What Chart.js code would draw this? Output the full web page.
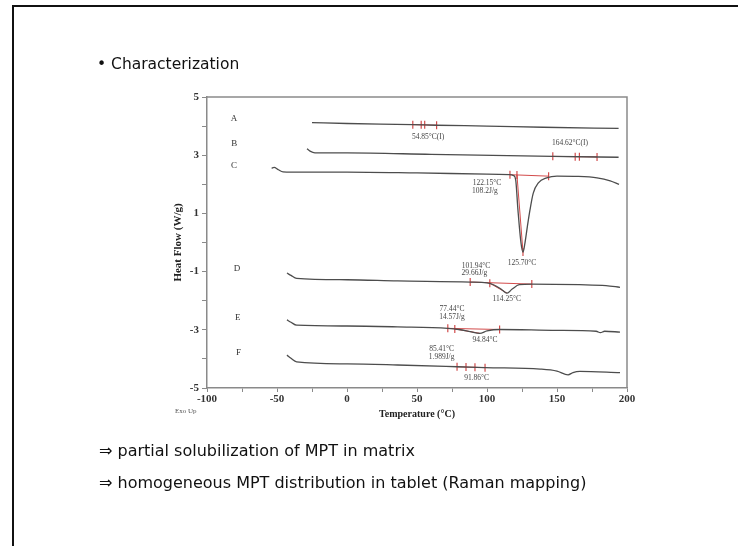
<!DOCTYPE html>
<html>
<head>
<meta charset="utf-8">
<script src="https://cdn.jsdelivr.net/npm/chart.js@4/dist/chart.umd.min.js"></script>
<style>
  html, body { margin: 0; padding: 0; background: #fff; }
  #slide { position: relative; width: 738px; height: 546px; overflow: hidden; }
  #dsc { position: absolute; left: 0; top: 0; }
  .edge-top { position: absolute; left: 12px; top: 5px; width: 740px; height: 2px; background: #111; }
  .edge-left { position: absolute; left: 12px; top: 5px; width: 2px; height: 560px; background: #111; }
  .txt { position: absolute; font-family: "DejaVu Sans", sans-serif; font-size: 15.5px; color: #111; white-space: nowrap; line-height: 18px; }
  .txt.arrow { font-size: 16px; }
  .exo { position: absolute; left: 175px; top: 407px; font-family: "Liberation Serif", serif; font-size: 7px; color: #555; }
</style>
</head>
<body>
<div id="slide">
  <canvas id="dsc" width="738" height="546"></canvas>
  <div class="edge-top"></div>
  <div class="edge-left"></div>
  <div class="txt" style="left:97px; top:55px;">• Characterization</div>
  <div class="txt arrow" style="left:99px; top:442px;">⇒ partial solubilization of MPT in matrix</div>
  <div class="txt arrow" style="left:99px; top:474px;">⇒ homogeneous MPT distribution in tablet (Raman mapping)</div>
  <div class="exo">Exo Up</div>
</div>
<script>
// DSC thermograms, temperature (°C) vs heat flow (W/g)
const tA = [-25, 0, 47, 64, 100, 140, 194];
const hA = [4.12, 4.09, 4.05, 4.03, 4.00, 3.96, 3.92];

const tB = [-28.6, -26.4, -22.9, 0, 60, 147, 194];
const hB = [3.22, 3.14, 3.08, 3.08, 3.03, 2.96, 2.93];

const tC = [-53.8, -52.1, -49, -45.7, -32, 0, 50, 100, 116, 119, 120.5, 122.1, 124.3, 125.7, 127.1, 128.8, 130.7, 133, 136.7, 142.6, 150, 165, 178.6, 188, 194.3];
const hC = [2.55, 2.58, 2.50, 2.43, 2.42, 2.42, 2.39, 2.35, 2.33, 2.30, 2.15, 1.12, -0.02, -0.33, -0.02, 0.54, 1.12, 1.69, 2.05, 2.22, 2.28, 2.27, 2.22, 2.12, 2.00];

const tD = [-42.9, -40, -36, 0, 36, 88, 100, 105, 110, 114.3, 118, 123, 132, 166, 185, 195];
const hD = [-1.05, -1.13, -1.23, -1.28, -1.32, -1.36, -1.39, -1.46, -1.60, -1.74, -1.60, -1.45, -1.43, -1.45, -1.48, -1.54];

const tE = [-42.9, -40, -36, 0, 36, 72, 80, 88, 94.8, 100, 109, 150, 178, 181, 184, 195];
const hE = [-2.66, -2.74, -2.84, -2.87, -2.90, -2.95, -2.99, -3.06, -3.12, -3.04, -2.99, -3.02, -3.05, -3.10, -3.05, -3.08];

const tF = [-42.9, -40, -36, 0, 36, 78.6, 98.6, 138, 150, 157.9, 161.4, 166.4, 195];
const hF = [-3.87, -3.98, -4.10, -4.17, -4.21, -4.27, -4.30, -4.35, -4.42, -4.55, -4.47, -4.43, -4.47];

// analysis marks (onset / limit ticks)
const markT = [47, 53, 55.5, 64, 147, 163, 166, 178.6, 116.4, 121.4, 144, 125.7, 88, 102, 132, 72, 77, 109, 78.6, 85, 91.4, 98.6];
const markH = [4.05, 4.05, 4.05, 4.03, 2.96, 2.95, 2.95, 2.94, 2.33, 2.32, 2.28, -0.33, -1.36, -1.40, -1.43, -2.95, -2.97, -2.99, -4.27, -4.28, -4.29, -4.30];

// red baselines / tangents: [t1, h1, t2, h2]
const baselines = [
  [47, 4.05, 64, 4.03],
  [147, 2.96, 178.6, 2.94],
  [116.4, 2.33, 144, 2.28],
  [121.4, 2.32, 125.7, -0.33],
  [88, -1.36, 132, -1.43],
  [102, -1.40, 114.3, -1.74],
  [72, -2.95, 109, -2.99],
  [77, -2.97, 94.8, -3.12],
  [78.6, -4.27, 98.6, -4.30]
];

const curveNames = ['A', 'B', 'C', 'D', 'E', 'F'];
const nameT = [-80.7, -80.5, -80.7, -78.6, -78, -77.5];
const nameH = [4.24, 3.41, 2.63, -0.91, -2.59, -3.80];

const noteText = ['54.85°C(I)', '164.62°C(I)', '122.15°C', '108.2J/g', '125.70°C', '101.94°C', '29.66J/g', '114.25°C', '77.44°C', '14.57J/g', '94.84°C', '85.41°C', '1.989J/g', '91.86°C'];
const noteT = [57.9, 159.3, 100, 98.5, 125, 92.1, 91, 114.1, 75, 75, 98.6, 67.6, 67.6, 92.6];
const noteH = [3.63, 3.42, 2.04, 1.77, -0.69, -0.81, -1.05, -1.95, -2.29, -2.55, -3.35, -3.67, -3.95, -4.67];

const xTicks = [-100, -50, 0, 50, 100, 150, 200];
const yTicks = [5, 3, 1, -1, -3, -5];

const curveColor = '#4d4d4d';
const redColor = 'rgba(205, 55, 55, 0.9)';
const axisColor = '#8a8a8a';
const serif = 'Liberation Serif';

function pts(ts, hs) {
  return ts.map((t, i) => ({ x: t, y: hs[i] }));
}

const curves = [[tA, hA], [tB, hB], [tC, hC], [tD, hD], [tE, hE], [tF, hF]];

const datasets = curves.map(([ts, hs]) => ({
  type: 'line',
  data: pts(ts, hs),
  borderColor: curveColor,
  borderWidth: 1.3,
  pointRadius: 0,
  cubicInterpolationMode: 'monotone',
  fill: false
}));

baselines.forEach(b => {
  datasets.push({
    type: 'line',
    data: [{ x: b[0], y: b[1] }, { x: b[2], y: b[3] }],
    borderColor: redColor,
    borderWidth: 1,
    pointRadius: 0,
    fill: false
  });
});

datasets.push({
  type: 'scatter',
  data: pts(markT, markH),
  pointStyle: 'line',
  rotation: 90,
  radius: 4,
  borderColor: redColor,
  borderWidth: 1.2
});

// top/right frame plus curve letters and result labels
const dscText = {
  id: 'dscText',
  afterDraw(chart) {
    const { ctx, chartArea: a, scales: { x, y } } = chart;
    ctx.save();
    ctx.strokeStyle = axisColor;
    ctx.lineWidth = 1.5;
    ctx.beginPath();
    ctx.moveTo(a.left, a.top);
    ctx.lineTo(a.right, a.top);
    ctx.lineTo(a.right, a.bottom);
    ctx.stroke();

    ctx.textAlign = 'center';
    ctx.textBaseline = 'middle';
    ctx.fillStyle = '#333';
    ctx.font = '9px "' + serif + '"';
    curveNames.forEach((n, i) => {
      ctx.fillText(n, x.getPixelForValue(nameT[i]), y.getPixelForValue(nameH[i]));
    });
    ctx.font = '7.5px "' + serif + '"';
    ctx.fillStyle = '#444';
    noteText.forEach((s, i) => {
      ctx.fillText(s, x.getPixelForValue(noteT[i]), y.getPixelForValue(noteH[i]));
    });
    ctx.restore();
  }
};

const tickFont = { family: serif, size: 11, weight: 'bold' };

new Chart(document.getElementById('dsc'), {
  data: { datasets },
  options: {
    responsive: false,
    animation: false,
    layout: { padding: { left: 150, top: 97, right: 111, bottom: 118 } },
    plugins: { legend: { display: false }, tooltip: { enabled: false } },
    scales: {
      x: {
        type: 'linear',
        min: -100,
        max: 200,
        afterBuildTicks: s => { s.ticks = [-100, -75, -50, -25, 0, 25, 50, 75, 100, 125, 150, 175, 200].map(v => ({ value: v })); },
        ticks: {
          autoSkip: false,
          maxRotation: 0,
          padding: 1,
          color: '#333',
          font: tickFont,
          callback: v => xTicks.includes(v) ? String(v) : ''
        },
        grid: { drawOnChartArea: false, tickLength: 4, color: axisColor, lineWidth: 1 },
        border: { color: axisColor, width: 1.5 },
        title: { display: true, text: 'Temperature (°C)', color: '#222', font: { family: serif, size: 10, weight: 'bold' }, padding: { top: 0, bottom: 8 } },
        afterFit: s => { s.height = 40; }
      },
      y: {
        type: 'linear',
        min: -5,
        max: 5,
        afterBuildTicks: s => { s.ticks = [-5, -4, -3, -2, -1, 0, 1, 2, 3, 4, 5].map(v => ({ value: v })); },
        ticks: {
          autoSkip: false,
          padding: 3,
          color: '#333',
          font: tickFont,
          callback: v => yTicks.includes(v) ? String(v) : ''
        },
        grid: { drawOnChartArea: false, tickLength: 5, color: axisColor, lineWidth: 1 },
        border: { color: axisColor, width: 1.5 },
        title: { display: true, text: 'Heat Flow (W/g)', color: '#222', font: { family: serif, size: 11, weight: 'bold' }, padding: { top: 22, bottom: 0 } },
        afterFit: s => { s.width = 57; }
      }
    }
  },
  plugins: [dscText]
});
</script>
</body>
</html>
